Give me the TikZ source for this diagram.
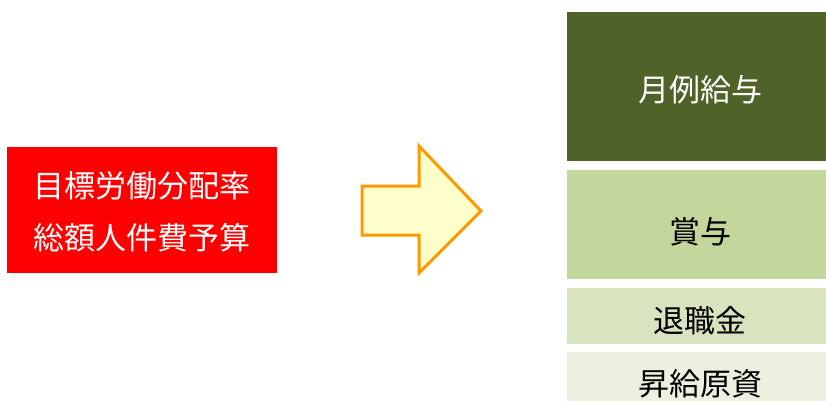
\documentclass[tikz,border=0pt]{standalone}
\usepackage{fontspec}
\setmainfont{Noto Sans CJK JP}
\definecolor{redbox}{HTML}{FF0000}
\definecolor{arrowline}{HTML}{FF9900}
\definecolor{arrowfill}{HTML}{FFFFCC}
\definecolor{olive1}{HTML}{4F6228}
\definecolor{olive2}{HTML}{C3D69B}
\definecolor{olive3}{HTML}{D7E4BD}
\definecolor{olive4}{HTML}{EBF1DE}
\begin{document}
\begin{tikzpicture}[x=1pt,y=-1pt,
  bar/.style={draw=none,inner sep=0pt,outer sep=0pt},
  lbl/.style={font=\fontsize{31}{34}\selectfont,inner sep=0pt},
  ]
\useasboundingbox (0,0) rectangle (826,401);
% left red box
\fill[redbox] (7,147) rectangle (277,273);
\node[lbl,text=white] (t1) at (142,186) {目標労働分配率};
\node[lbl,text=white] (t2) at (142,238) {総額人件費予算};
% arrow
\draw[arrowline,fill=arrowfill,line width=3pt,line join=miter]
  (362,186) -- (419,186) -- (419,146) -- (481,211) -- (419,273) -- (419,235) -- (362,235) -- cycle;
% right stack
\fill[olive1] (567,12) rectangle (826,161);
\fill[olive2] (567,170) rectangle (826,279);
\fill[olive3] (567,288) rectangle (826,344);
\fill[olive4] (567,352) rectangle (826,401);
\node[lbl,text=white] (b1) at (700,90) {月例給与};
\node[lbl,text=black] (b2) at (700,232) {賞与};
\node[lbl,text=black] (b3) at (700,321) {退職金};
\node[lbl,text=black] (b4) at (700,384) {昇給原資};
\end{tikzpicture}
\end{document}
